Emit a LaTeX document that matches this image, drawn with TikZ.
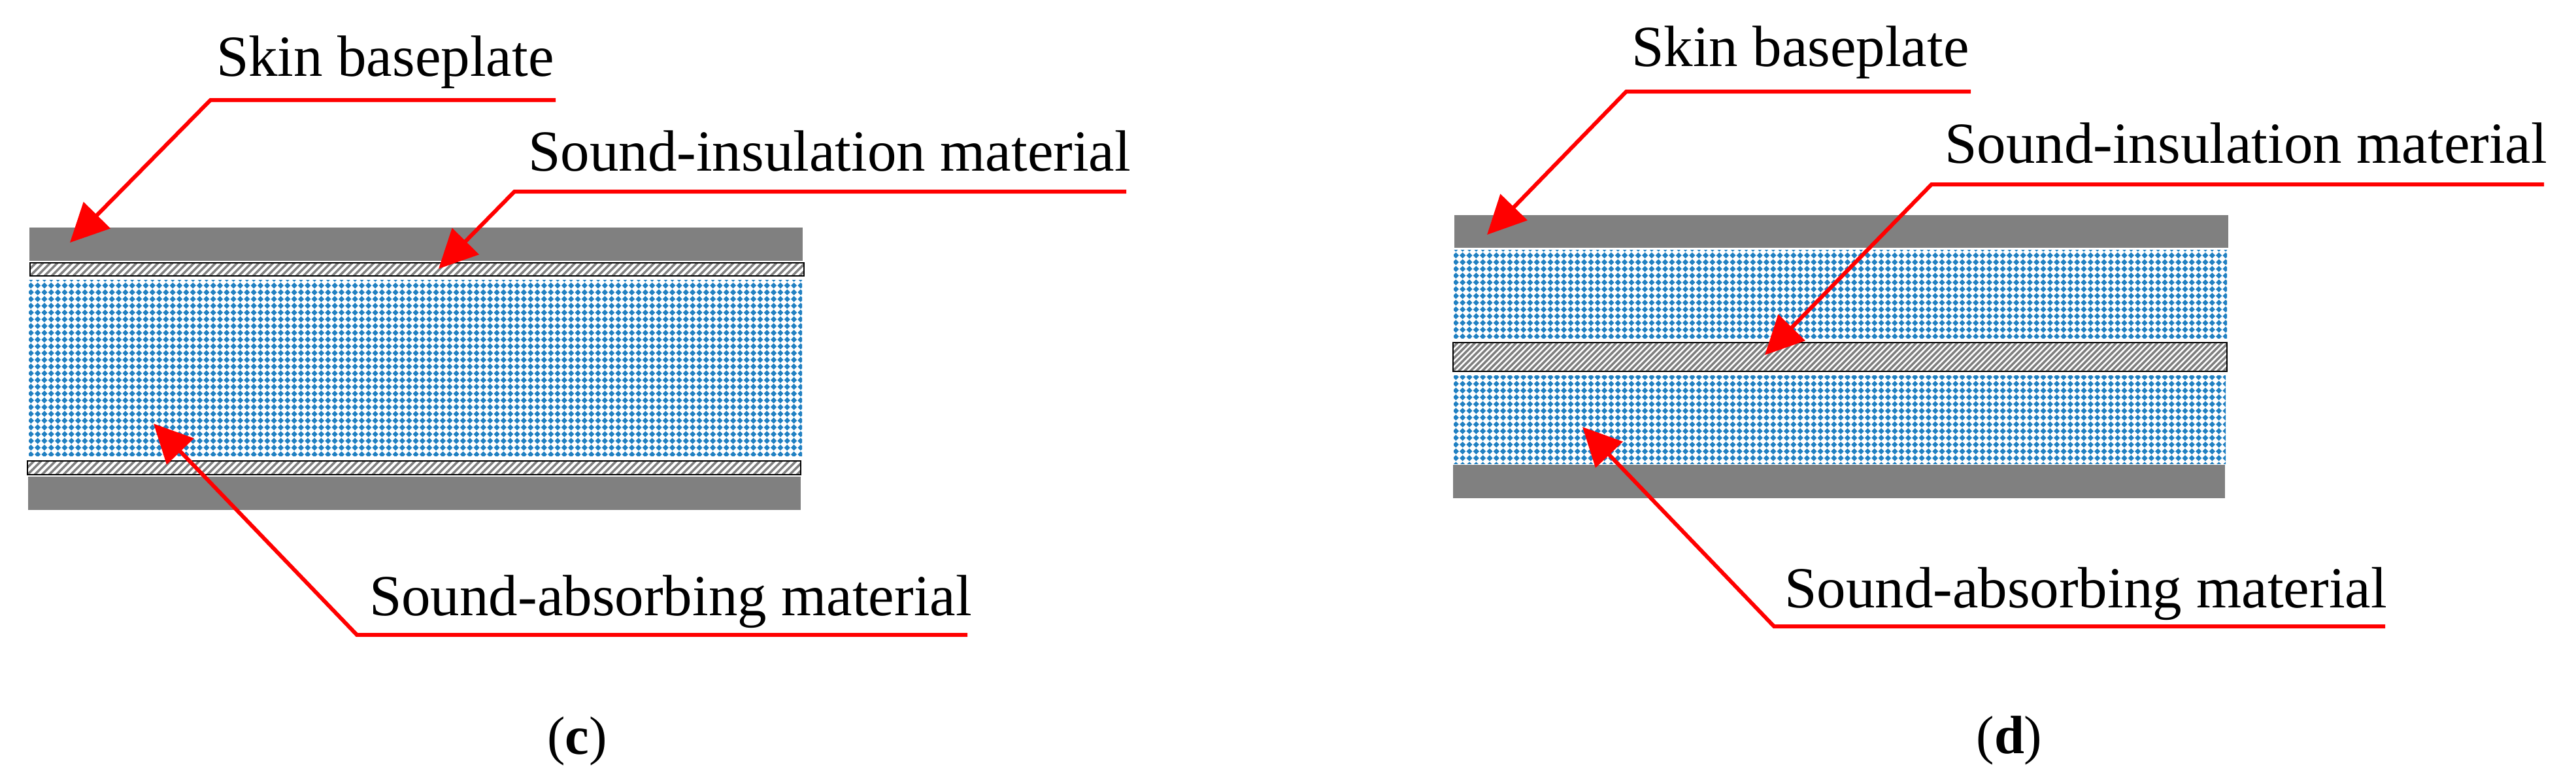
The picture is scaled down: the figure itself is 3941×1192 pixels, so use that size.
\documentclass[tikz,border=0pt]{standalone}
\usepackage{fontspec}
\setmainfont{Liberation Serif}
\usetikzlibrary{arrows.meta}
\definecolor{skingrey}{RGB}{128,128,128}
\definecolor{foamblue}{RGB}{32,128,194}
\definecolor{leaderred}{RGB}{255,0,0}
\tikzset{
  lbl/.style={anchor=base west,inner sep=0pt,outer sep=0pt,font=\fontsize{17.8}{20}\selectfont},
  figcap/.style={anchor=base,inner sep=0pt,outer sep=0pt,font=\fontsize{16.5}{20}\selectfont},
  leader/.style={draw=leaderred,line width=1.2pt,miter limit=10,
    -{Triangle[length=11.8pt,width=11.3pt,fill=leaderred]}},
  skin/.style={fill=skingrey},
  hatchline/.style={draw=skingrey,line width=0.7pt},
  hatchbox/.style={draw=black,line width=0.5pt}
}
% x1,y1,x2,y2,first row y,last row index,last column index
\newcommand{\foamfield}[7]{%
  \begin{scope}
    \clip (#1,#2) rectangle (#3,#4);
    \fill[foamblue] \foreach \j in {0,...,#6}{ \foreach \i in {0,...,#7}{
      ({#1+3.3+\i*10.33-4.6},{#5+\j*10.33}) -- ++(4.6,-4.6) -- ++(4.6,4.6) -- ++(-4.6,4.6) -- cycle
    }};
  \end{scope}}
% x1,y1,x2,y2,pitch,last index
\newcommand{\hatchfield}[6]{%
  \begin{scope}
    \clip (#1,#2) rectangle (#3,#4);
    \foreach \k in {0,...,#6}{
      \draw[hatchline] ({#1-60+\k*#5},{#4+5}) -- ++({#4-#2+10},{#2-#4-10});
    }
  \end{scope}
  \draw[hatchbox] (#1,#2) rectangle (#3,#4);}
\begin{document}
\begin{tikzpicture}[x=0.2pt,y=-0.2pt]
\useasboundingbox[fill=white] (0,0) rectangle (3941,1192);

% ---------- panel (c)
\fill[skin] (45,348) rectangle (1228,399);
\fill[skin] (43,729) rectangle (1225,780);
\foamfield{44}{428}{1227}{697}{426.4}{26}{115}
\hatchfield{46.2}{402.2}{1229.8}{421.8}{11}{115}
\hatchfield{42.2}{705.2}{1225}{725.8}{11}{115}

\coordinate (c1end) at (850,153);  \coordinate (c1elb) at (322,153);  \coordinate (c1tip) at (107,371);
\coordinate (c2end) at (1723,293); \coordinate (c2elb) at (787,293);  \coordinate (c2tip) at (671,411);
\coordinate (c3end) at (1480,971); \coordinate (c3elb) at (546,971);  \coordinate (c3tip) at (235,648);
\draw[leader] (c1end) -- (c1elb) -- (c1tip);
\draw[leader] (c2end) -- (c2elb) -- (c2tip);
\draw[leader] (c3end) -- (c3elb) -- (c3tip);

\node[lbl] (c1txt) at (331,116) {Skin baseplate};
\node[lbl] (c2txt) at (808,261) {Sound-insulation material};
\node[lbl] (c3txt) at (565,941) {Sound-absorbing material};
\node[figcap] (ccap) at (883,1153) {(\textbf{c})};

% ---------- panel (d)
\fill[skin] (2225,329) rectangle (3409,379);
\fill[skin] (2223,711) rectangle (3404,762);
\foamfield{2224}{382}{3407}{517}{380.3}{13}{115}
\foamfield{2224}{574}{3405}{709}{576.7}{13}{115}
\hatchfield{2223.2}{524.2}{3407}{567.8}{9}{140}

\coordinate (d1end) at (3015,140); \coordinate (d1elb) at (2488,140); \coordinate (d1tip) at (2275,359);
\coordinate (d2end) at (3892,282); \coordinate (d2elb) at (2955,282); \coordinate (d2tip) at (2700,543);
\coordinate (d3end) at (3649,958); \coordinate (d3elb) at (2714,958); \coordinate (d3tip) at (2421,653);
\draw[leader] (d1end) -- (d1elb) -- (d1tip);
\draw[leader] (d2end) -- (d2elb) -- (d2tip);
\draw[leader] (d3end) -- (d3elb) -- (d3tip);

\node[lbl] (d1txt) at (2496,101) {Skin baseplate};
\node[lbl] (d2txt) at (2975,249) {Sound-insulation material};
\node[lbl] (d3txt) at (2730,929) {Sound-absorbing material};
\node[figcap] (dcap) at (3074,1152) {(\textbf{d})};
\end{tikzpicture}
\end{document}
